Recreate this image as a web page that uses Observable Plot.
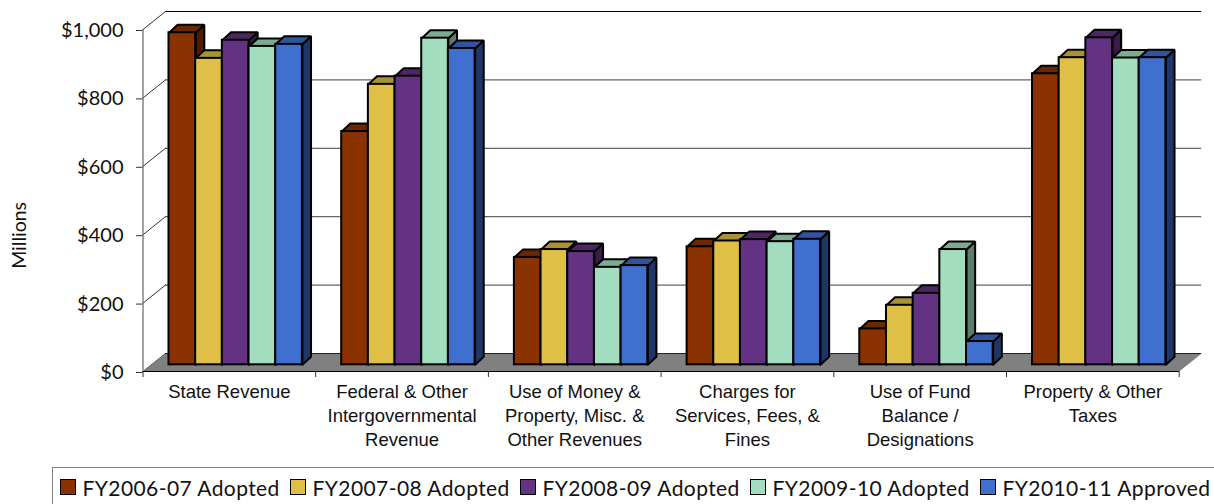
<!DOCTYPE html>
<html><head><meta charset="utf-8">
<script src="https://cdn.jsdelivr.net/npm/d3@7"></script>
<script src="https://cdn.jsdelivr.net/npm/@observablehq/plot@0.6"></script>
<style>
html,body{margin:0;padding:0;background:#fff;width:1214px;height:504px;overflow:hidden}
svg{display:block}
#legend{position:absolute;left:52px;top:467px;width:1162px;height:37px;box-sizing:border-box;border-top:1px solid #7f7f7f;border-left:1px solid #7f7f7f;font-family:Lato,sans-serif;font-size:21px;color:#111}
.it{position:absolute;top:0;height:38px;display:flex;align-items:center;white-space:nowrap;letter-spacing:.42px}
.sw{width:14px;height:14px;border:1.5px solid #000;margin-right:6.5px;display:inline-block}
</style></head><body>
<div id="chart"></div><div id="legend"></div>
<script>
const categories = [
  "State Revenue",
  "Federal & Other\nIntergovernmental\nRevenue",
  "Use of Money &\nProperty, Misc. &\nOther Revenues",
  "Charges for\nServices, Fees, &\nFines",
  "Use of Fund\nBalance /\nDesignations",
  "Property & Other\nTaxes"
];
const seriesNames = ["FY2006-07 Adopted","FY2007-08 Adopted","FY2008-09 Adopted","FY2009-10 Adopted","FY2010-11 Approved"];
const fy0607 = [971, 682, 314, 345, 105, 851];
const fy0708 = [896, 820, 337, 362, 174, 898];
const fy0809 = [949, 844, 331, 366, 209, 956];
const fy0910 = [931, 955, 285, 360, 337, 897];
const fy1011 = [937, 925, 290, 367, 68, 898];
const seriesValues = [fy0607, fy0708, fy0809, fy0910, fy1011];
const frontColors = ["#8b3300","#dfbf45","#643282","#a2ddbf","#3f6fcf"];
const topColors   = ["#6b2800","#a89233","#4d2663","#7daa93","#30559e"];
const sideColors  = ["#4d1c00","#7d6d26","#391c4a","#5c7d6c","#1f3768"];
const yTicks = [0,200,400,600,800,1000];
const xTicks = [0,1,2,3,4,5,6];

// Oblique projection, expressed in the chart's own data units
const wallDX = 0.13, wallDY = 52.6;     // depth of the floor and back wall
const frontDY = 19.6;                    // lift of the bars' front plane
const barStart = 0.1505, barW = 0.1545;  // bar offset and width within a category
const barDX = 0.05, barDY = 23.4;        // bar depth

const bars = [];
categories.forEach((c,i)=>seriesValues.forEach((vals,s)=>{
  const x1=i+barStart+s*barW, x2=x1+barW, y1=frontDY, y2=frontDY+vals[i];
  bars.push({x1,x2,y1,y2,s});
}));
const faces = [];
bars.forEach((b,k)=>{
  const add=(pts,fill)=>pts.forEach(([x,y])=>faces.push({id:k+"-"+fill,x,y,fill}));
  add([[b.x2,b.y1],[b.x2+barDX,b.y1+barDY],[b.x2+barDX,b.y2+barDY],[b.x2,b.y2],[b.x2,b.y1]],sideColors[b.s]);
  add([[b.x1,b.y2],[b.x2,b.y2],[b.x2+barDX,b.y2+barDY],[b.x1+barDX,b.y2+barDY],[b.x1,b.y2]],topColors[b.s]);
});
const floor = [[0,0],[6,0],[6+wallDX,wallDY],[wallDX,wallDY],[0,0]].map(([x,y])=>({x,y}));
const diagonals = yTicks.flatMap(v=>[{v,x:0,y:v},{v,x:wallDX,y:v+wallDY}]);
const label = d=>"$"+d3.format(",")(d);
const sans = "Liberation Sans, Arial, sans-serif";

const plot = Plot.plot({
  width:1214, height:467,
  marginLeft:142.5, marginRight:35.3, marginTop:29, marginBottom:96,
  x:{domain:[0,6], axis:null},
  y:{domain:[0,1000], axis:null},
  style:{background:"transparent"},
  marks:[
    Plot.ruleY([200,400,600,800].map(v=>v+wallDY),{x1:wallDX,x2:6+wallDX,stroke:"#666",strokeWidth:1.2}),
    Plot.ruleY([1000+wallDY],{x1:wallDX,x2:6+wallDX,stroke:"#000",strokeWidth:1.2}),
    Plot.line(diagonals,{x:"x",y:"y",z:"v",stroke:"#333",strokeWidth:1}),
    Plot.ruleX([0],{y1:0,y2:1000,stroke:"#666",strokeWidth:1.2}),
    Plot.line(floor,{x:"x",y:"y",fill:"#808080",stroke:"none"}),
    Plot.ruleY([wallDY],{x1:wallDX,x2:6+wallDX,stroke:"#222",strokeWidth:1}),
    Plot.line(faces,{x:"x",y:"y",z:"id",fill:"fill",stroke:"#000",strokeWidth:2,strokeLinejoin:"miter"}),
    Plot.rect(bars,{x1:"x1",x2:"x2",y1:"y1",y2:"y2",fill:d=>frontColors[d.s],stroke:"#000",strokeWidth:2}),
    Plot.axisY({ticks:yTicks,tickSize:6.5,tickPadding:13,tickFormat:label,fontSize:20,fontFamily:"Lato, sans-serif",fill:"#111",stroke:"#333",textStroke:"none",label:null,dy:1}),
    Plot.axisX({ticks:xTicks,tickSize:6,tickFormat:()=>"",label:null,anchor:"bottom",stroke:"#333"}),
    Plot.ruleY([0],{stroke:"#000",strokeWidth:1.2}),
    Plot.text(categories,{x:(d,i)=>i+0.5,y:()=>0,dy:10,lineAnchor:"top",lineHeight:1.285,text:d=>d,fontSize:18.5,fontFamily:sans,fill:"#111"}),
    Plot.text(["Millions"],{x:()=>0,y:()=>398,dx:-123.5,rotate:-90,text:d=>d,fontSize:19.5,fontFamily:"Lato, sans-serif",fill:"#111"})
  ]
});
document.getElementById("chart").appendChild(plot);
const lg=document.getElementById("legend");
seriesNames.forEach((n,i)=>{
  const it=document.createElement("div");it.className="it";it.style.left=(7+230*i)+"px";
  const sw=document.createElement("span");sw.className="sw";sw.style.background=frontColors[i];
  it.appendChild(sw);it.appendChild(document.createTextNode(n));lg.appendChild(it);
});
</script></body></html>
